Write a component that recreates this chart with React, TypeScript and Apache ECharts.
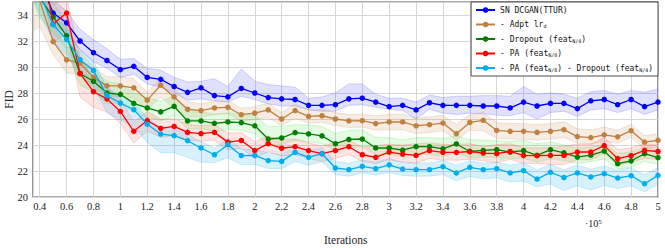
import React, { useEffect, useRef } from 'react';
import * as echarts from 'echarts';

const iterations = [0.3, 0.4, 0.5, 0.6, 0.7, 0.8, 0.9, 1.0, 1.1, 1.2, 1.3, 1.4, 1.5, 1.6, 1.7, 1.8, 1.9, 2.0, 2.1, 2.2, 2.3, 2.4, 2.5, 2.6, 2.7, 2.8, 2.9, 3.0, 3.1, 3.2, 3.3, 3.4, 3.5, 3.6, 3.7, 3.8, 3.9, 4.0, 4.1, 4.2, 4.3, 4.4, 4.5, 4.6, 4.7, 4.8, 4.9, 5.0];

const seriesNames = ['SN DCGAN(TTUR)', '- Adpt lrd', '- Dropout (featN/4)', '- PA (featN/8)', '- PA (featN/8) - Dropout (featN/4)'];
const legendLabels = ['SN DCGAN(TTUR)', '- Adpt lr{s|d}', '- Dropout (feat{s|N/4})', '- PA (feat{s|N/8})', '- PA (feat{s|N/8}) - Dropout (feat{s|N/4})'];

const xTickStep = 0.2;
const yTicks = [20, 22, 24, 26, 28, 30, 32, 34];

const baseline = [39, 36.6, 34.15, 33.4, 32.0, 31.1, 30.5, 29.8, 30.05, 29.2, 29.05, 28.5, 28.05, 28.4, 27.8, 27.7, 28.35, 28.0, 27.65, 27.55, 27.5, 27.05, 27.05, 27.1, 27.55, 27.6, 27.3, 26.95, 27.05, 26.7, 27.25, 27.05, 27.05, 27.05, 27.0, 27.0, 26.85, 27.3, 27.0, 27.2, 27.2, 26.8, 27.4, 27.5, 27.1, 27.5, 26.95, 27.3];
const baselineUp = [1.5, 1.2, 1.0, 0.9, 0.9, 1.0, 0.9, 0.8, 0.6, 0.7, 0.7, 0.7, 0.8, 0.5, 1.3, 0.8, 1.5, 0.9, 1.0, 1.0, 0.95, 0.55, 0.65, 0.9, 1.15, 1.1, 0.6, 0.65, 0.55, 0.6, 0.6, 0.6, 0.7, 0.7, 0.8, 0.8, 0.9, 1.2, 0.9, 0.8, 0.7, 0.8, 0.7, 0.7, 0.8, 0.7, 1.1, 1.0];
const baselineDown = [1.2, 1.0, 0.9, 0.8, 0.7, 0.7, 0.6, 0.6, 0.6, 0.5, 0.6, 0.5, 0.6, 0.85, 0.4, 0.4, 0.6, 0.5, 0.5, 0.55, 0.5, 0.35, 0.45, 0.5, 0.5, 0.5, 0.4, 0.2, 0.4, 0.7, 0.5, 0.6, 0.7, 0.6, 0.6, 0.7, 0.6, 0.8, 1.0, 0.7, 0.6, 0.6, 0.7, 0.7, 0.6, 0.7, 0.6, 0.6];

const adptLr = [37, 35.1, 31.95, 30.55, 30.3, 29.2, 28.55, 28.55, 28.4, 27.45, 28.6, 27.7, 26.75, 26.65, 26.85, 26.9, 26.33, 26.45, 26.7, 26.0, 26.65, 26.2, 26.25, 26.0, 25.85, 25.87, 25.65, 25.77, 25.77, 25.48, 25.56, 25.69, 24.87, 25.74, 25.9, 25.12, 25.05, 25.05, 24.97, 25.05, 25.18, 24.65, 24.57, 24.78, 24.63, 25.1, 24.22, 24.36];
const adptLrUp = [1.5, 1.5, 1.2, 1.0, 0.9, 0.8, 0.7, 0.7, 0.7, 0.6, 0.6, 0.6, 0.6, 0.5, 0.5, 0.5, 0.5, 0.5, 0.5, 0.5, 0.5, 0.5, 0.5, 0.5, 0.5, 0.5, 0.6, 0.6, 0.6, 0.6, 0.6, 0.6, 0.7, 0.6, 0.6, 0.6, 0.6, 0.6, 0.6, 0.6, 0.6, 0.6, 0.6, 0.6, 0.5, 0.5, 0.5, 0.5];
const adptLrDown = [4.5, 2.0, 1.0, 1.0, 0.9, 0.8, 0.8, 0.8, 0.8, 0.7, 0.9, 0.9, 0.6, 0.5, 0.5, 0.5, 0.5, 0.5, 0.6, 0.5, 0.6, 0.5, 0.5, 0.5, 0.5, 0.5, 0.5, 0.6, 0.6, 0.6, 0.6, 0.6, 0.5, 0.6, 0.8, 0.6, 0.6, 0.6, 0.6, 0.6, 0.6, 0.5, 0.5, 0.5, 0.5, 0.5, 0.5, 0.5];

const dropout = [38, 35.3, 33.85, 32.4, 29.5, 28.9, 28.0, 27.9, 27.2, 26.85, 26.55, 26.97, 25.85, 25.85, 25.67, 25.77, 25.72, 25.48, 24.46, 24.54, 24.95, 24.85, 24.7, 24.1, 24.43, 24.46, 23.77, 23.77, 23.6, 23.87, 23.87, 23.71, 24.08, 23.5, 23.58, 23.64, 23.46, 23.56, 23.2, 23.64, 23.4, 23.07, 23.22, 23.53, 22.56, 22.78, 23.33, 23.02];
const dropoutUp = [1.5, 1.5, 1.2, 1.0, 1.0, 0.9, 0.9, 0.8, 0.8, 0.8, 0.8, 0.8, 0.7, 0.7, 0.7, 0.7, 0.7, 0.8, 0.95, 0.9, 0.6, 0.7, 0.7, 0.8, 0.7, 0.7, 0.8, 0.8, 0.8, 0.7, 0.7, 0.8, 0.6, 0.9, 0.8, 0.7, 0.8, 0.8, 0.9, 0.6, 0.6, 0.7, 0.6, 0.5, 0.8, 0.7, 0.5, 0.6];
const dropoutDown = [1.5, 1.5, 1.2, 1.0, 0.9, 0.8, 0.8, 0.7, 0.7, 0.7, 0.7, 0.7, 0.6, 0.6, 0.6, 0.6, 0.6, 0.6, 0.5, 0.5, 0.6, 0.6, 0.6, 0.5, 0.6, 0.6, 0.5, 0.5, 0.5, 0.6, 0.6, 0.6, 0.7, 0.5, 0.5, 0.6, 0.5, 0.6, 0.5, 0.7, 0.6, 0.5, 0.5, 0.6, 0.4, 0.5, 0.6, 0.5];

const pa = [42, 39, 33.3, 34.15, 29.5, 28.1, 27.55, 26.58, 25.05, 25.88, 25.28, 25.43, 24.97, 24.88, 24.97, 24.22, 24.35, 23.57, 24.1, 23.75, 23.87, 23.57, 23.33, 23.57, 23.87, 23.25, 23.05, 23.46, 23.3, 23.2, 23.56, 23.44, 23.43, 23.5, 23.38, 23.33, 23.5, 23.2, 23.18, 23.2, 23.2, 23.46, 23.46, 23.95, 22.95, 23.18, 23.58, 23.5];
const paUp = [2, 2, 1.5, 1.2, 1.2, 1.0, 0.9, 0.9, 0.75, 0.7, 0.7, 0.6, 0.6, 0.6, 0.6, 0.7, 0.6, 0.7, 0.6, 0.6, 0.6, 0.6, 0.6, 0.6, 0.5, 0.6, 0.9, 0.6, 0.7, 0.9, 0.6, 0.6, 0.6, 0.6, 0.5, 0.7, 0.6, 0.6, 0.6, 0.6, 0.7, 0.6, 0.6, 0.6, 0.7, 0.6, 0.5, 0.5];
const paDown = [2, 2, 1.5, 1.5, 1.8, 1.2, 1.0, 0.9, 0.9, 0.8, 0.7, 0.7, 0.6, 0.6, 0.6, 0.6, 0.6, 0.6, 0.6, 0.6, 0.6, 0.6, 0.6, 0.6, 0.6, 0.5, 0.5, 0.6, 0.6, 0.6, 0.6, 0.6, 0.6, 0.6, 0.6, 0.7, 0.6, 0.6, 0.6, 0.7, 0.7, 0.6, 0.6, 0.6, 0.5, 0.5, 0.6, 0.6];

const paDropout = [38, 35.6, 33.25, 32.1, 30.56, 29.74, 27.8, 27.23, 26.72, 25.6, 24.84, 24.72, 24.33, 23.77, 23.25, 24.02, 23.19, 23.2, 22.8, 22.74, 23.43, 23.05, 23.33, 22.23, 22.1, 22.36, 22.18, 22.48, 22.15, 22.1, 22.1, 22.33, 21.85, 22.28, 22.1, 22.18, 21.85, 22.02, 21.38, 21.9, 21.5, 21.85, 21.54, 21.79, 21.46, 21.64, 21.02, 21.66];
const paDropoutUp = [1.5, 1.5, 1.0, 0.8, 0.8, 0.7, 0.6, 0.6, 0.6, 0.5, 0.5, 0.5, 0.5, 0.5, 0.5, 0.5, 0.5, 0.5, 0.6, 0.5, 0.5, 0.5, 0.5, 0.5, 0.5, 0.5, 0.5, 0.5, 0.5, 0.5, 0.5, 0.5, 0.6, 0.5, 0.5, 0.5, 0.6, 0.6, 0.7, 0.6, 0.6, 0.6, 0.6, 0.6, 0.6, 0.6, 0.7, 0.6];
const paDropoutDown = [1.5, 1.5, 1.2, 1.2, 1.2, 1.2, 1.3, 1.3, 1.3, 1.4, 1.45, 1.3, 1.3, 1.1, 0.6, 1.0, 0.7, 0.7, 0.6, 0.6, 0.7, 0.6, 0.6, 0.5, 0.5, 0.5, 0.5, 0.6, 0.5, 0.5, 0.5, 0.6, 0.6, 0.7, 0.7, 0.7, 0.7, 0.8, 0.6, 0.9, 1.0, 1.0, 1.0, 0.9, 0.8, 0.8, 0.6, 0.7];

const lineColors = ['#0000ff', '#bf8040', '#008000', '#ff0000', '#00aeef'];
const bandColors = ['#4040ff', '#c58a50', '#30e030', '#ff4040', '#20b0f0'];
const bandOpacity = [0.16, 0.16, 0.14, 0.14, 0.18];

const allValues = [baseline, adptLr, dropout, pa, paDropout];
const allUp = [baselineUp, adptLrUp, dropoutUp, paUp, paDropoutUp];
const allDown = [baselineDown, adptLrDown, dropoutDown, paDown, paDropoutDown];

const serifFont = 'Liberation Serif';
const monoFont = 'DejaVu Sans Mono';

function buildOption() {
  const series: any[] = [];
  allValues.forEach((vals, k) => {
    const up = allUp[k];
    const down = allDown[k];
    series.push({
      type: 'custom',
      name: 'band-' + k,
      clip: true,
      silent: true,
      z: 1,
      data: [[iterations[0], vals[0]]],
      encode: { x: 0, y: 1 },
      renderItem: (params: any, api: any) => {
        if (params.dataIndex !== 0) return null;
        const upper = iterations.map((x, i) => api.coord([x, vals[i] + up[i]]));
        const lower = iterations.map((x, i) => api.coord([x, vals[i] - down[i]]));
        const lowerRev = lower.slice().reverse();
        return {
          type: 'group',
          children: [
            { type: 'polygon', shape: { points: upper.concat(lowerRev) }, style: { fill: bandColors[k], opacity: bandOpacity[k], stroke: 'none' } },
            { type: 'polyline', shape: { points: upper }, style: { stroke: bandColors[k], fill: 'none', lineWidth: 0.7, opacity: 0.3 } },
            { type: 'polyline', shape: { points: lower }, style: { stroke: bandColors[k], fill: 'none', lineWidth: 0.7, opacity: 0.3 } },
          ],
        };
      },
    });
  });
  allValues.forEach((vals, k) => {
    series.push({
      type: 'line', name: seriesNames[k],
      data: vals.map((v, i) => [iterations[i], v]),
      symbol: 'circle', symbolSize: 5.5, showSymbol: true,
      itemStyle: { color: lineColors[k] },
      lineStyle: { color: lineColors[k], width: 1.3 },
      z: 3 + k, clip: true,
    });
  });

  return {
    animation: false,
    backgroundColor: '#ffffff',
    grid: { left: 33, right: 7, top: 2, bottom: 51, show: true, borderColor: '#555', borderWidth: 1.2, backgroundColor: 'transparent' },
    xAxis: {
      type: 'value', min: 0.35, max: 5,
      splitNumber: 23, minInterval: xTickStep, maxInterval: xTickStep,
      axisLine: { show: false },
      axisTick: { show: false },
      axisLabel: { showMinLabel: false, margin: 4, fontFamily: serifFont, fontSize: 10.5, color: '#222' },
      splitLine: { show: true, lineStyle: { color: '#d6d6d6', width: 1 } },
    },
    yAxis: {
      type: 'value', min: yTicks[0], max: 35, interval: 2,
      axisLine: { show: false },
      axisTick: { show: false },
      axisLabel: { showMaxLabel: false, margin: 5, fontFamily: serifFont, fontSize: 10.5, color: '#222' },
      splitLine: { show: true, lineStyle: { color: '#d6d6d6', width: 1 } },
    },
    legend: {
      data: seriesNames,
      orient: 'vertical',
      right: 7, top: 2,
      backgroundColor: '#ffffff',
      borderColor: '#222', borderWidth: 0.8, borderRadius: 0,
      padding: [4, 5, 4, 4],
      itemWidth: 19, itemHeight: 7, itemGap: 6.5,
      textStyle: {
        fontFamily: monoFont, fontSize: 8, color: '#111',
        rich: { s: { fontFamily: monoFont, fontSize: 5, verticalAlign: 'bottom', color: '#111', padding: [3, 0, 0, 0] } },
      },
      formatter: (name: string) => legendLabels[seriesNames.indexOf(name)],
    },
    graphic: [
      { type: 'text', left: 324, top: 234, style: { text: 'Iterations', font: `11.5px "${serifFont}"`, fill: '#222' } },
      { type: 'text', x: 9, y: 99.5, rotation: Math.PI / 2, style: { text: 'FID', font: `11.5px "${serifFont}"`, fill: '#222', align: 'center', verticalAlign: 'middle' } },
      {
        type: 'text', left: 585, top: 218,
        style: {
          text: '{a|·10}{b|5}',
          rich: {
            a: { fontFamily: serifFont, fontSize: 10, fill: '#222', color: '#222' },
            b: { fontFamily: serifFont, fontSize: 7, fill: '#222', color: '#222', verticalAlign: 'top' },
          },
        },
      },
    ],
    series,
  };
}

export default function App() {
  const ref = useRef<HTMLDivElement>(null);
  useEffect(() => {
    if (!ref.current) return;
    const chart = echarts.init(ref.current, null, { renderer: 'svg' });
    chart.setOption(buildOption());
    return () => chart.dispose();
  }, []);
  return <div ref={ref} style={{ position: 'fixed', left: 0, top: 0, width: 665, height: 248, background: '#fff' }} />;
}
